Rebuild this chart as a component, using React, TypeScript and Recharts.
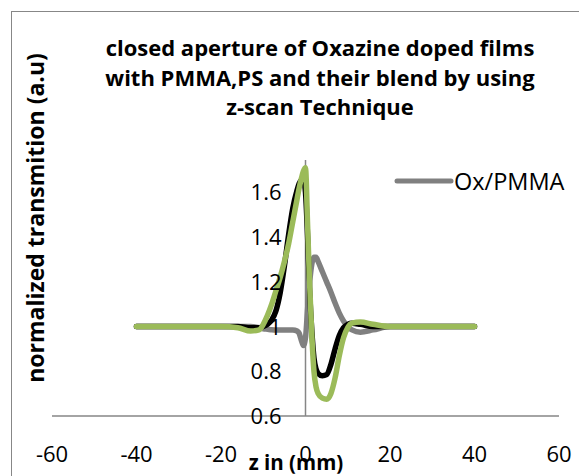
import React from 'react';
import { LineChart, Line, XAxis, YAxis, ReferenceLine, Legend } from 'recharts';

const zValues = [-40, -35, -30, -25, -20, -16, -13, -11, -10, -9, -8, -7, -6, -5, -4, -3, -2, -1.5, -1, -0.5, 0, 0.5, 1, 1.5, 2, 2.5, 3, 4, 5, 6, 7, 8, 9, 10, 11, 13, 16, 20, 25, 30, 35, 40];

const oxPMMA = [1, 1, 1, 1, 1, 1, 1.0, 0.995, 0.99, 0.988, 0.986, 0.985, 0.985, 0.985, 0.985, 0.985, 0.98, 0.97, 0.94, 0.915, 0.95, 1.08, 1.2, 1.28, 1.31, 1.31, 1.29, 1.245, 1.2, 1.155, 1.105, 1.06, 1.025, 1.0, 0.985, 0.975, 0.985, 1.0, 1, 1, 1, 1];

const oxPS = [1, 1, 1, 1, 1, 1, 0.995, 0.995, 1.0, 1.01, 1.03, 1.07, 1.15, 1.27, 1.41, 1.53, 1.61, 1.64, 1.655, 1.66, 1.6, 1.4, 1.15, 0.98, 0.86, 0.81, 0.79, 0.78, 0.785, 0.83, 0.9, 0.96, 0.995, 1.01, 1.015, 1.01, 1.0, 1, 1, 1, 1, 1];

const oxBlend = [1, 1, 1, 1, 1, 0.995, 0.98, 0.985, 1.01, 1.05, 1.1, 1.16, 1.22, 1.29, 1.37, 1.47, 1.57, 1.62, 1.66, 1.695, 1.71, 1.45, 1.18, 0.96, 0.8, 0.73, 0.7, 0.68, 0.675, 0.7, 0.77, 0.87, 0.95, 0.995, 1.015, 1.02, 1.01, 1.0, 1, 1, 1, 1];

const xTicks = [-60, -40, -20, 0, 20, 40, 60];
const yTicks = [0.6, 0.8, 1, 1.2, 1.4, 1.6];
const titleLines = ['closed aperture of Oxazine doped films', 'with PMMA,PS and their blend by using', 'z-scan Technique'];

const rows = zValues.map((z, i) => ({ z, pmma: oxPMMA[i], ps: oxPS[i], blend: oxBlend[i] }));

const W = 579;
const H = 476;
const Y_AXIS_W = 2;
const M = { top: 160, right: 20, left: 50, bottom: 0 };
const X_AXIS_H = 60;
const PLOT_LEFT = M.left + Y_AXIS_W;
const PLOT_W = W - PLOT_LEFT - M.right;
const X_MIN = -60;
const X_MAX = 60;
const zeroX = PLOT_LEFT + (PLOT_W * (0 - X_MIN)) / (X_MAX - X_MIN);
const FONT = '"Open Sans", sans-serif';
const AXIS_COLOR = '#868686';

const XTick = (props: any) => {
  const { x, y, payload } = props;
  return (
    <text x={x} y={y} dy={45.5} textAnchor="middle" fontFamily={FONT} fontSize={22} fill="#000">
      {String(payload.value)}
    </text>
  );
};

const YTick = (props: any) => {
  const { y, payload } = props;
  return (
    <text x={zeroX - 24} y={y} dy={8} textAnchor="end" fontFamily={FONT} fontSize={22} fill="#000">
      {String(payload.value)}
    </text>
  );
};

const LegendContent = (props: any) => {
  const items = (props.payload || []).filter((p: any) => p.value === 'Ox/PMMA');
  return (
    <div style={{ display: 'flex', flexDirection: 'column' }}>
      {items.map((p: any) => (
        <div key={p.value} style={{ display: 'flex', alignItems: 'center', height: 30 }}>
          <svg width={60} height={10} style={{ display: 'block' }}>
            <line x1={3} y1={5} x2={57} y2={5} stroke={p.color} strokeWidth={5} strokeLinecap="round" />
          </svg>
          <span style={{ fontFamily: FONT, fontSize: 23.5, color: '#000', lineHeight: '30px' }}>{p.value}</span>
        </div>
      ))}
    </div>
  );
};

export default function App() {
  return (
    <div style={{ position: 'absolute', left: 0, top: 0, width: W, height: H, overflow: 'hidden', background: '#fff', fontFamily: FONT }}>
      <div style={{ position: 'absolute', left: 11, top: 11, width: 800, height: 800, border: '1px solid #878787', boxSizing: 'border-box' }} />
      <div style={{ position: 'absolute', left: 0, top: 0 }}>
        <LineChart width={W} height={H} data={rows} margin={M}>
          <XAxis
            type="number"
            dataKey="z"
            domain={[X_MIN, X_MAX]}
            ticks={xTicks}
            height={X_AXIS_H}
            axisLine={{ stroke: AXIS_COLOR, strokeWidth: 1.5 }}
            tickLine={false}
            tickSize={0}
            tickMargin={0}
            tick={<XTick />}
            interval={0}
            allowDataOverflow
          />
          <YAxis
            type="number"
            domain={[0.6, 1.745]}
            ticks={yTicks}
            width={Y_AXIS_W}
            axisLine={false}
            tickLine={false}
            tickSize={0}
            tickMargin={0}
            tick={YTick}
            interval={0}
            allowDataOverflow
          />
          <ReferenceLine x={0} stroke={AXIS_COLOR} strokeWidth={1.5} />
          <Legend
            layout="horizontal"
            verticalAlign="middle"
            align="center"
            wrapperStyle={{ left: 394, top: 166, width: 190, height: 30 }}
            content={<LegendContent />}
          />
          <Line name="Ox/PMMA" dataKey="pmma" type="monotone" stroke="#808080" strokeWidth={5.5} dot={false} strokeLinecap="round" strokeLinejoin="round" isAnimationActive={false} />
          <Line name="Ox/PS" dataKey="ps" type="monotone" stroke="#000000" strokeWidth={5.5} dot={false} strokeLinecap="round" strokeLinejoin="round" isAnimationActive={false} />
          <Line name="Ox/PMMA-PS blend" dataKey="blend" type="monotone" stroke="#9BBB59" strokeWidth={5.5} dot={false} strokeLinecap="round" strokeLinejoin="round" isAnimationActive={false} />
        </LineChart>
      </div>
      <div style={{ position: 'absolute', left: 0, top: 0, width: 640, textAlign: 'center', fontFamily: FONT, fontWeight: 700, fontSize: 22, lineHeight: '29.5px', paddingTop: 33, color: '#000', pointerEvents: 'none' }}>
        {titleLines.map((t) => (
          <div key={t} style={{ whiteSpace: 'nowrap' }}>{t}</div>
        ))}
      </div>
      <div style={{ position: 'absolute', left: 35, top: 218, transform: 'translate(-50%, -50%) rotate(-90deg)', whiteSpace: 'nowrap', fontFamily: FONT, fontWeight: 700, fontSize: 23, color: '#000' }}>
        normalized transmition (a.u)
      </div>
      <div style={{ position: 'absolute', left: 296, top: 448, transform: 'translateX(-50%)', whiteSpace: 'nowrap', fontFamily: FONT, fontWeight: 700, fontSize: 20.5, color: '#000', lineHeight: '28px' }}>
        z in (mm)
      </div>
    </div>
  );
}
